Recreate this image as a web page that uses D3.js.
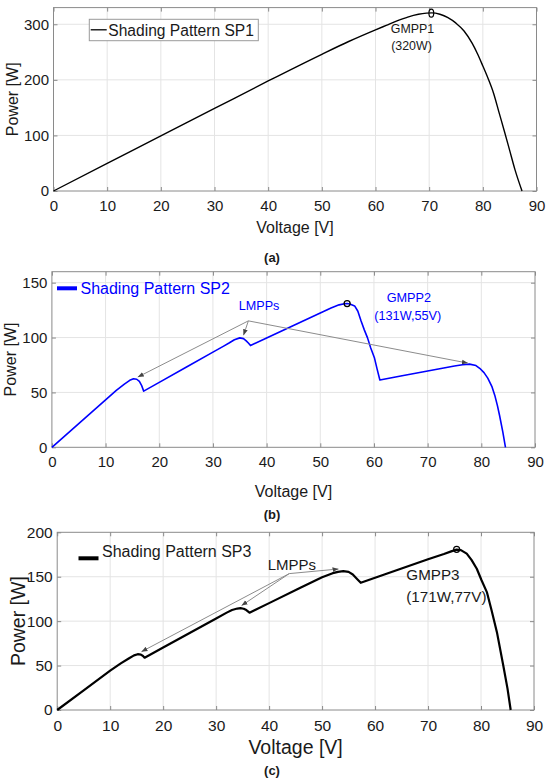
<!DOCTYPE html>
<html>
<head>
<meta charset="utf-8">
<script src="https://cdn.jsdelivr.net/npm/d3@7"></script>
<style>
  body { margin: 0; background: #fff; }
  text { font-family: "Liberation Sans", Arial, sans-serif; fill: #1a1a1a; }
</style>
</head>
<body>
<svg id="chart" width="550" height="781"></svg>
<script>
// ---- data ----
const voltTicks = [0, 10, 20, 30, 40, 50, 60, 70, 80, 90];

const sp1Ticks = [0, 100, 200, 300];
const sp1V = [0, 10, 20, 30, 40, 50, 55, 60, 62, 64, 66, 68, 69.5, 70.5, 72, 73.5, 75, 76.5, 78, 79, 80, 81, 82, 83, 84, 85, 86, 87.3];
const sp1P = [0, 49.5, 99, 148.5, 198, 246, 269, 290, 298, 306, 313, 318, 320, 320.5, 318, 312, 302, 288, 266, 247, 225, 202, 176, 142, 108, 73, 38, 0];

const sp2Ticks = [0, 50, 100, 150];
const sp2V = [0, 5, 10, 12, 13.5, 14.5, 15.2, 15.8, 16.3, 16.7, 17.1,
              20, 25, 30, 32, 33, 34, 35, 35.7, 36.2, 36.6, 37.0,
              40, 45, 50, 52, 53.5, 54.5, 55, 55.5, 56.4, 57, 57.6, 58.2, 58.8, 59.4, 60.1, 60.6, 61.1,
              65, 70, 75, 76.5, 77.8, 79, 79.7, 80.5, 81.2, 82, 82.5, 83, 83.4, 84, 84.5];
const sp2P = [0, 21.6, 43.2, 51.8, 57.5, 61, 62.5, 62, 60, 56.5, 51.2,
              59.2, 72.9, 86.7, 92.2, 95, 98, 99.7, 99, 97, 95, 92.7,
              99.6, 111, 122.4, 127, 129.8, 130.8, 131, 130.5, 128.8, 124, 115, 107, 99.7, 90.5, 81.3, 71, 61.3,
              64.9, 69.5, 74, 75.2, 75.8, 74.5, 72, 68, 63, 55, 47.5, 38, 29, 14, 0];

const sp3Ticks = [0, 50, 100, 150, 200];
const sp3V = [0, 5, 10, 12, 13.5, 14.5, 15.2, 15.8, 16.2, 16.5,
              20, 25, 30, 32, 33, 34, 34.6, 35.2, 35.7, 36.3,
              40, 45.9, 50, 52, 53, 54, 55, 55.8, 56.6, 57.3,
              60, 65, 70, 73, 74.5, 75.4, 76.2, 77.3, 78.2, 79.2, 80.1, 81.1, 82, 83, 84.2, 85, 85.6];
const sp3P = [0, 22.1, 44.3, 52.5, 58, 61.5, 62.8, 62.3, 60.8, 58.9,
              70.3, 86.7, 103, 109.6, 112.6, 114.2, 114.6, 114, 112.5, 109.5,
              120.3, 137.5, 149.5, 154, 155.5, 156.2, 155.5, 152.5, 147.5, 143.2,
              148.8, 159.2, 169.6, 175.5, 178.8, 180.5, 180, 176, 169, 159, 146, 132.7, 112, 87.6, 50, 24, 0];

// annotation anchors [V, P]
const lmpp2From = [36.6, 115.2];
const lmpp2To = [[16.0, 64], [35.7, 102.1], [77.5, 76.7]];
const lmpp3From = [43.8, 153.5];
const lmpp3To = [[15.9, 65.6], [34.8, 117.5], [53.1, 158.7]];
const gmpp1 = [70.4, 320];
const gmpp2 = [55, 131];
const gmpp3 = [75.4, 180.8];

const svg = d3.select("#chart");

svg.append("defs").append("marker")
  .attr("id", "head")
  .attr("viewBox", "0 0 10 10")
  .attr("refX", 10).attr("refY", 5)
  .attr("markerWidth", 6).attr("markerHeight", 6)
  .attr("markerUnits", "userSpaceOnUse")
  .attr("orient", "auto")
  .append("path")
  .attr("d", "M0,1 L10,5 L0,9 Z")
  .attr("fill", "#444");

function drawPanel(p) {
  const x = d3.scaleLinear().domain([0, 90]).range([p.left, p.right]);
  const y = d3.scaleLinear().domain([0, p.ymax]).range([p.bottom, p.top]);
  const g = svg.append("g");

  // grid
  g.append("g").selectAll("line")
    .data(voltTicks.filter(d => d > 0 && d < 90))
    .join("line")
    .attr("x1", d => x(d)).attr("x2", d => x(d))
    .attr("y1", p.top).attr("y2", p.bottom)
    .attr("stroke", "#e4e4e4");
  g.append("g").selectAll("line")
    .data(p.yTicks.filter(d => d > 0 && d < p.ymax))
    .join("line")
    .attr("x1", p.left).attr("x2", p.right)
    .attr("y1", d => y(d)).attr("y2", d => y(d))
    .attr("stroke", "#e4e4e4");

  const font = '"Liberation Sans", Arial, sans-serif';
  const styleAxis = sel => {
    sel.attr("font-family", font).attr("font-size", p.tickFs);
    sel.select(".domain").remove();
    sel.selectAll("line").attr("stroke", "#8a8a8a");
    sel.selectAll("text").attr("fill", "#1a1a1a");
  };

  g.append("g").attr("transform", `translate(0,${p.bottom})`)
    .call(d3.axisBottom(x).tickValues(voltTicks).tickSize(-4).tickPadding(9.5))
    .call(styleAxis);
  g.append("g").attr("transform", `translate(0,${p.top})`)
    .call(d3.axisTop(x).tickValues(voltTicks).tickSize(-4).tickFormat(""))
    .call(styleAxis);
  g.append("g").attr("transform", `translate(${p.left},0)`)
    .call(d3.axisLeft(y).tickValues(p.yTicks).tickSize(-4).tickPadding(4.5))
    .call(styleAxis);
  g.append("g").attr("transform", `translate(${p.right},0)`)
    .call(d3.axisRight(y).tickValues(p.yTicks).tickSize(-4).tickFormat(""))
    .call(styleAxis);

  g.append("rect")
    .attr("x", p.left).attr("y", p.top)
    .attr("width", p.right - p.left).attr("height", p.bottom - p.top)
    .attr("fill", "none").attr("stroke", "#8a8a8a");

  const line = d3.line().x(d => x(d[0])).y(d => y(d[1])).curve(p.curve || d3.curveLinear);
  g.append("path")
    .datum(p.V.map((v, i) => [v, p.P[i]]))
    .attr("d", line)
    .attr("fill", "none")
    .attr("stroke", p.color)
    .attr("stroke-width", p.lw)
    .attr("stroke-linejoin", "round");

  g.append("text")
    .attr("x", (p.left + p.right) / 2).attr("y", p.xlabY)
    .attr("text-anchor", "middle").attr("font-size", p.labFs)
    .text("Voltage [V]");
  g.append("text")
    .attr("transform", `translate(${p.ylabX},${(p.top + p.bottom) / 2}) rotate(-90)`)
    .attr("text-anchor", "middle").attr("dominant-baseline", "central")
    .attr("font-size", p.labFs)
    .text("Power [W]");

  g.append("text")
    .attr("x", 272).attr("y", p.capY)
    .attr("text-anchor", "middle")
    .attr("font-family", '"Liberation Serif", serif')
    .attr("font-weight", "bold").attr("font-size", 13)
    .text(`(${p.id})`);

  return { g, x, y };
}

function arrows(panel, from, tos) {
  panel.g.append("g").selectAll("line")
    .data(tos)
    .join("line")
    .attr("x1", panel.x(from[0])).attr("y1", panel.y(from[1]))
    .attr("x2", d => panel.x(d[0])).attr("y2", d => panel.y(d[1]))
    .attr("stroke", "#8c8c8c").attr("stroke-width", 1)
    .attr("marker-end", "url(#head)");
}

// ---- (a) ----
const pa = drawPanel({ id: "a", left: 53.5, right: 536.5, top: 7.6, bottom: 191, ymax: 330,
  yTicks: sp1Ticks, V: sp1V, P: sp1P, color: "#000", lw: 1.4, curve: d3.curveMonotoneX,
  tickFs: 15, labFs: 16, xlabY: 233, ylabX: 12.5, capY: 262 });

pa.g.append("rect")
  .attr("x", 89.3).attr("y", 19.3).attr("width", 169).attr("height", 21.4)
  .attr("fill", "#fff").attr("stroke", "#9a9a9a");
pa.g.append("line")
  .attr("x1", 90.7).attr("x2", 106.7).attr("y1", 29.8).attr("y2", 29.8)
  .attr("stroke", "#000").attr("stroke-width", 1.3);
pa.g.append("text").attr("x", 108.3).attr("y", 35.6).attr("font-size", 15.6)
  .text("Shading Pattern SP1");

pa.g.append("ellipse")
  .attr("cx", pa.x(gmpp1[0])).attr("cy", pa.y(gmpp1[1]))
  .attr("rx", 2.4).attr("ry", 4)
  .attr("fill", "none").attr("stroke", "#000").attr("stroke-width", 1.2);
pa.g.append("text").attr("x", pa.x(66.9)).attr("y", pa.y(292.8) + 4.5)
  .attr("text-anchor", "middle").attr("font-size", 12.4).text("GMPP1");
pa.g.append("text").attr("x", pa.x(66.7)).attr("y", pa.y(262.7) + 4.5)
  .attr("text-anchor", "middle").attr("font-size", 12.4).text("(320W)");

// ---- (b) ----
const pb = drawPanel({ id: "b", left: 51.9, right: 535, top: 271.7, bottom: 447.3, ymax: 160,
  yTicks: sp2Ticks, V: sp2V, P: sp2P, color: "#0000ff", lw: 1.6,
  tickFs: 15, labFs: 16, xlabY: 496.5, ylabX: 10.5, capY: 519 });

pb.g.append("line")
  .attr("x1", 57).attr("x2", 77).attr("y1", 288.3).attr("y2", 288.3)
  .attr("stroke", "#0000ff").attr("stroke-width", 4);
pb.g.append("text").attr("x", 80.5).attr("y", 294).attr("font-size", 16)
  .style("fill", "#0000ff").text("Shading Pattern SP2");

arrows(pb, lmpp2From, lmpp2To);
pb.g.append("circle")
  .attr("cx", pb.x(gmpp2[0])).attr("cy", pb.y(gmpp2[1])).attr("r", 3)
  .attr("fill", "none").attr("stroke", "#000").attr("stroke-width", 1.3);
pb.g.append("text").attr("x", pb.x(38.6)).attr("y", pb.y(129) + 4.5)
  .attr("text-anchor", "middle").attr("font-size", 12.6)
  .style("fill", "#0000ff").text("LMPPs");
pb.g.append("text").attr("x", pb.x(66.5)).attr("y", pb.y(136.5) + 4.5)
  .attr("text-anchor", "middle").attr("font-size", 12.7)
  .style("fill", "#0000ff").text("GMPP2");
pb.g.append("text").attr("x", pb.x(66.3)).attr("y", pb.y(120.5) + 4.5)
  .attr("text-anchor", "middle").attr("font-size", 12.7)
  .style("fill", "#0000ff").text("(131W,55V)");

// ---- (c) ----
const pc = drawPanel({ id: "c", left: 57.2, right: 534, top: 532.3, bottom: 710, ymax: 200,
  yTicks: sp3Ticks, V: sp3V, P: sp3P, color: "#000", lw: 2.2,
  tickFs: 15.5, labFs: 19.5, xlabY: 753.5, ylabX: 17.5, capY: 775 });

pc.g.append("line")
  .attr("x1", 78.5).attr("x2", 98.5).attr("y1", 558.3).attr("y2", 558.3)
  .attr("stroke", "#000").attr("stroke-width", 4);
pc.g.append("text").attr("x", 102).attr("y", 556.5).attr("font-size", 16)
  .text("Shading Pattern SP3");

arrows(pc, lmpp3From, lmpp3To);
pc.g.append("circle")
  .attr("cx", pc.x(gmpp3[0])).attr("cy", pc.y(gmpp3[1])).attr("r", 3)
  .attr("fill", "none").attr("stroke", "#000").attr("stroke-width", 1.2);
pc.g.append("text").attr("x", pc.x(44.3)).attr("y", pc.y(164) + 5.3)
  .attr("text-anchor", "middle").attr("font-size", 15).text("LMPPs");
pc.g.append("text").attr("x", pc.x(65.9)).attr("y", pc.y(152.3) + 5.4)
  .attr("font-size", 15.2).text("GMPP3");
pc.g.append("text").attr("x", pc.x(65.9)).attr("y", pc.y(127.8) + 5.4)
  .attr("font-size", 15.2).text("(171W,77V)");
</script>
</body>
</html>
